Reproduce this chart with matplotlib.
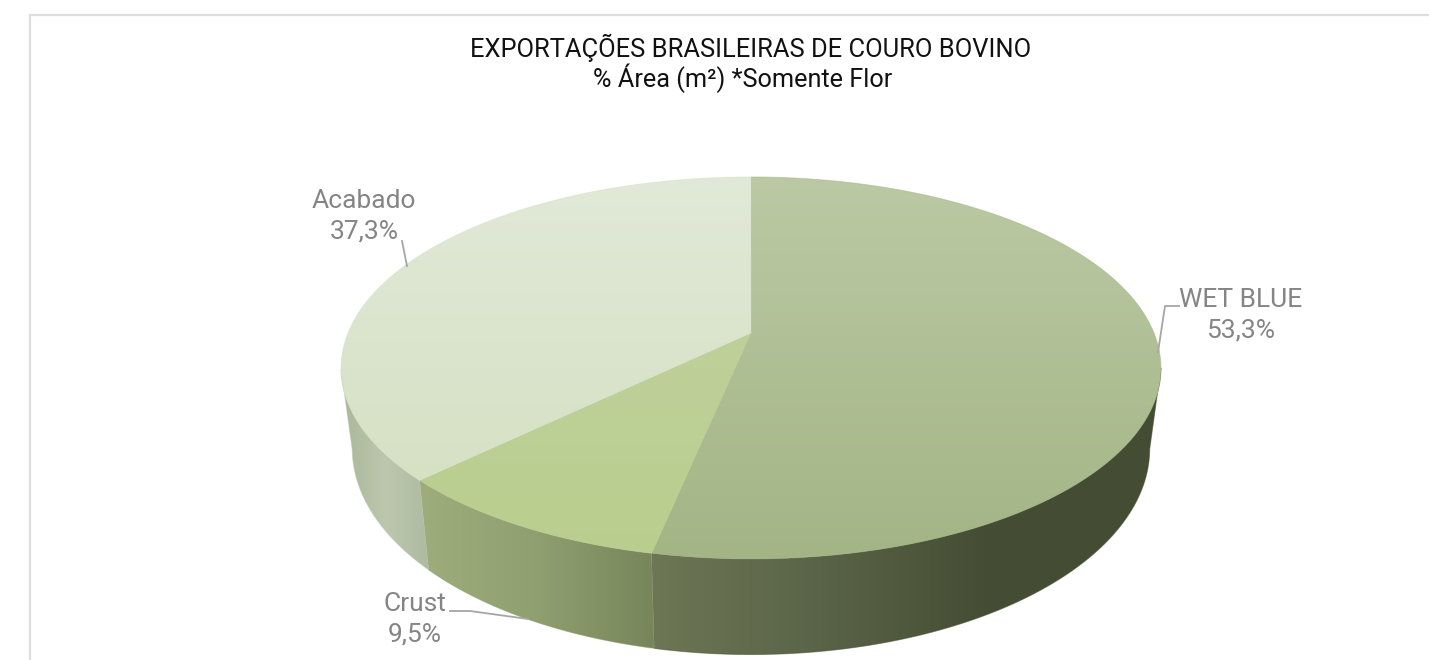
import numpy as np
import matplotlib.pyplot as plt
from matplotlib.colors import LinearSegmentedColormap
from matplotlib.patches import Polygon

categories = ['WET BLUE', 'Crust', 'Acabado']
values = [53.3, 9.5, 37.3]

title_lines = ['EXPORTAÇÕES BRASILEIRAS DE COURO BOVINO', '% Área (m²) *Somente Flor']

# vertical gradient on the top face, horizontal gradient on the rim
top_colors = [['#BBC9A4', '#A3B585'], ['#BFD09A', '#B9CE8E'], ['#E1E9D8', '#D6E1C4']]
side_colors = [['#6D7755', '#596347', '#444D33', '#444D33'],
               ['#9EAD7B', '#8F9F70', '#76865A'],
               ['#AAB798', '#BCC7AE', '#AFBBA0']]

plt.rcParams['font.family'] = ['Roboto', 'DejaVu Sans']

fig = plt.figure(figsize=(14.29, 6.6), dpi=100)
ax = fig.add_axes([0, 0, 1, 1])
ax.set_xlim(0, 1429)
ax.set_ylim(660, 0)
ax.axis('off')

# perspective projection of the disc, angles clockwise from twelve o'clock
K = 0.183


def project(theta, cy, a, b):
    u = np.sin(theta)
    v = np.cos(theta)
    return 751 + a * u / (1 + K * v), cy - b * v / (1 + K * v)


def top_rim(theta):
    return project(theta, 333, 403, 184.6)


def bottom_rim(theta):
    return project(theta, 411, 392, 199)


def gradient_fill(points, colors, vertical, z):
    patch = Polygon(points, closed=True, facecolor='none', edgecolor='none')
    ax.add_patch(patch)
    xs = points[:, 0]
    ys = points[:, 1]
    cmap = LinearSegmentedColormap.from_list('g', colors)
    grad = np.linspace(0, 1, 256)
    grad = grad.reshape(-1, 1) if vertical else grad.reshape(1, -1)
    img = ax.imshow(grad, cmap=cmap, aspect='auto', origin='upper',
                    extent=(xs.min(), xs.max(), ys.max(), ys.min()),
                    interpolation='bilinear', zorder=z)
    img.set_clip_path(patch)
    # soft edge so the clip does not look jagged
    ax.plot(np.r_[xs, xs[0]], np.r_[ys, ys[0]], color=colors[len(colors) // 2],
            lw=0.7, alpha=0.5, zorder=z)


total = sum(values)
edges = np.concatenate([[0], np.cumsum(values)]) / total * 2 * np.pi

# rim first, the top faces cover whatever is behind
for i in range(len(values)):
    theta = np.linspace(edges[i], edges[i + 1], 300)
    # only the front part is visible, up to the tangent of the ellipse
    theta = theta[np.cos(theta) < -K]
    tx, ty = top_rim(theta)
    bx, by = bottom_rim(theta)
    pts = np.column_stack([np.r_[tx, bx[::-1]], np.r_[ty, by[::-1]]])
    gradient_fill(pts, side_colors[i], False, 1 + i * 0.1)

for i in range(len(values)):
    theta = np.linspace(edges[i], edges[i + 1], 300)
    tx, ty = top_rim(theta)
    pts = np.column_stack([np.r_[751, tx], np.r_[333, ty]])
    gradient_fill(pts, top_colors[i], True, 2 + i * 0.1)

ax.set_xlim(0, 1429)
ax.set_ylim(660, 0)

# chart frame, cut by the screenshot on the right and at the bottom
ax.plot([30, 30, 1429], [660, 15, 15], color='#DEDEDE', lw=1.6, solid_joinstyle='miter')

# leader lines
ax.plot([1179, 1165, 1158], [306, 306, 352], color='#A6A6A6', lw=1.3, zorder=3)
ax.plot([402, 407], [241, 266], color='#A6A6A6', lw=1.3, zorder=3)
ax.plot([450, 470, 528], [611, 611, 619], color='#A6A6A6', lw=1.3, zorder=3)

label_x = [1241, 415, 364]
label_y = [315, 619, 216.5]
for i in range(len(values)):
    pct = f'{values[i]:.1f}'.replace('.', ',') + '%'
    ax.text(label_x[i], label_y[i], categories[i] + '\n' + pct, ha='center', va='center',
            fontsize=19, color='#858585', linespacing=1.32, zorder=4)

ax.text(751, 48, title_lines[0], ha='center', va='center', fontsize=18.4, color='#111111')
ax.text(742.5, 78, title_lines[1], ha='center', va='center', fontsize=18.2, color='#111111')

fig.savefig('out.png', dpi=100)
